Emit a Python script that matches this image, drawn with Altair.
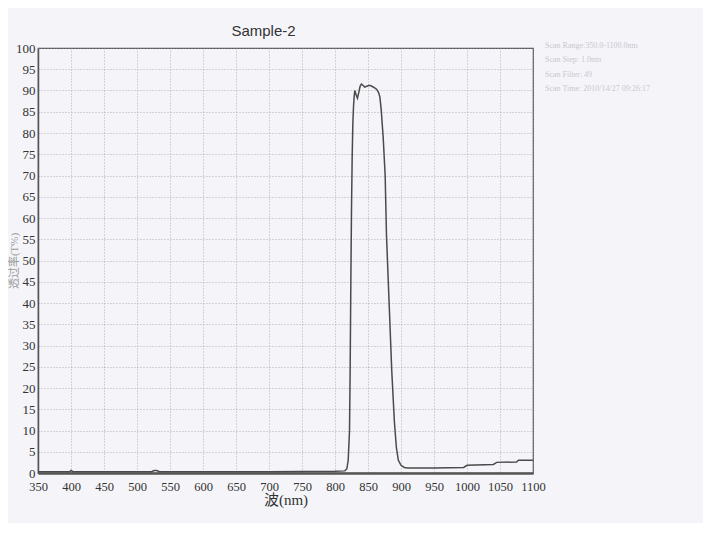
import altair as alt
import pandas as pd

wavelength = [350, 398, 400, 403, 522, 526, 530, 534, 600, 700, 800, 815, 818, 820, 822, 823, 824, 825, 826,
              827, 828, 829, 830, 832, 834, 836, 838, 840, 842, 845, 848, 852, 856, 860, 863, 866,
              868, 870, 873, 876, 878, 882, 886, 890, 893, 896, 900, 905, 910, 950, 995, 1000,
              1040, 1045, 1075, 1078, 1100]
transmittance = [0.3, 0.3, 0.6, 0.3, 0.3, 0.6, 0.6, 0.3, 0.3, 0.3, 0.4, 0.5, 1.0, 3.0, 10, 25, 45, 62, 74,
                 82, 86, 88.5, 90, 89, 88.2, 89.5, 91, 91.5, 91.3, 90.8, 91, 91.2, 91, 90.6, 90.3, 89.5,
                 88.5, 85.5, 79, 70, 56, 40, 24, 12, 6, 3, 1.8, 1.3, 1.2, 1.2, 1.3, 1.8,
                 2.0, 2.5, 2.6, 3.0, 3.0]

x_ticks = list(range(350, 1101, 50))
y_ticks = list(range(0, 101, 5))

scan_info = ["Scan Range:350.0-1100.0nm", "Scan Step:  1.0nm", "Scan Filter:  49",
             "Scan Time:  2010/14/27  09:26:17"]

df = pd.DataFrame({"wl": wavelength, "t": transmittance})
info_df = pd.DataFrame({"txt": scan_info, "row": list(range(len(scan_info)))})

font = "Liberation Serif, Noto Sans CJK SC"

x = alt.X("wl:Q", scale=alt.Scale(domain=[350, 1100], nice=False, zero=False),
          axis=alt.Axis(values=x_ticks, format="d", labelOverlap=False, labelFlush=False,
                        title="波(nm)", grid=True, tickSize=0, labelPadding=7,
                        labelFont=font, labelFontSize=12.5, labelColor="#333",
                        titleFont=font, titleFontSize=15, titleFontWeight="normal", titleColor="#333",
                        titlePadding=0,
                        domainColor="#555", domainWidth=2.5))
y = alt.Y("t:Q", scale=alt.Scale(domain=[0, 100], nice=False),
          axis=alt.Axis(values=y_ticks, format="d", labelOverlap=False, labelFlush=False,
                        title="透过率(T%)", grid=True, tickSize=0, labelPadding=3,
                        labelFont=font, labelFontSize=13, labelColor="#333",
                        titleFont=font, titleFontSize=11, titleFontWeight="normal", titleColor="#999",
                        titleX=-19,
                        domainColor="#555", domainWidth=1.5))

line = alt.Chart(df).mark_line(color="#4a4a4a", strokeWidth=1.5).encode(x=x, y=y)

info = alt.Chart(info_df).mark_text(align="left", baseline="middle", font=font, fontSize=8,
                                    color="#c8c8d0").encode(
    x=alt.value(507),
    y=alt.Y("row:Q", axis=None, scale=alt.Scale(domain=[0, 3], range=[-2, 41])),
    text="txt:N",
)

chart = alt.layer(line, info).resolve_scale(y="independent").properties(
    width=495, height=425,
    title=alt.TitleParams("Sample-2", font="Liberation Sans", fontSize=15, fontWeight="normal",
                          color="#333", offset=3, dx=-22),
    autosize=alt.AutoSizeParams(type="none"),
    padding={"left": 30, "top": 40, "right": 170, "bottom": 50},
    background="#f5f5f9",
).configure_axis(
    gridColor="#999", gridDash=[1, 2], gridWidth=1, gridOpacity=0.75,
).configure_view(
    stroke="#555", strokeWidth=1.2,
)

chart.save("out.html", embed_options={"renderer": "svg", "actions": False})
